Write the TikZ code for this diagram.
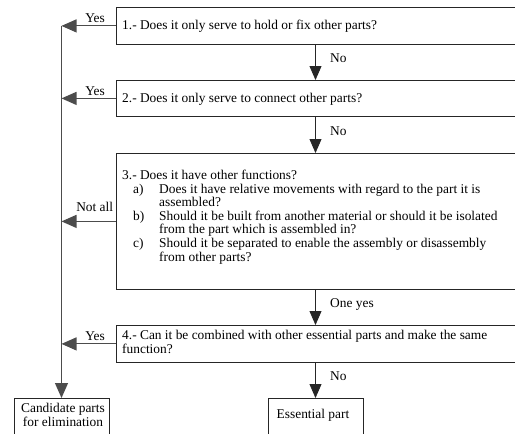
\documentclass[tikz,border=0pt]{standalone}
\usepackage{fontspec}
\setmainfont{Liberation Serif}
\usetikzlibrary{arrows.meta}
\begin{document}
\begin{tikzpicture}[x=1pt,y=-1pt,
  every node/.style={font=\fontsize{13.4}{13.6}\selectfont, inner sep=0pt},
  box/.style={draw=black!85, line width=0.8pt, anchor=north west, minimum width=420pt},
  endbox/.style={draw=black!85, line width=0.8pt, anchor=north, minimum width=95pt, minimum height=50pt},
  lbl/.style={anchor=base},
  txt/.style={anchor=base west},
  conn/.style={draw=black!70, line width=1.1pt, -{Triangle[length=15pt,width=13pt]}},
  down/.style={draw=black!85, line width=0.8pt, -{Triangle[length=14pt,width=12pt]}}]
\useasboundingbox (0,0) rectangle (515,434);
\clip (0,0) rectangle (515,434);
\fill[white] (0,0) rectangle (515,434);
% boxes
\node[box, minimum height=37pt] (q1) at (116,7) {};
\node[box, minimum height=36pt] (q2) at (116,80) {};
\node[box, minimum height=136pt] (q3) at (116,153) {};
\node[box, minimum height=37pt] (q4) at (116,325) {};
\node[endbox] (cand) at (61.5,398) {};
\node[endbox] (ess) at (315.5,398) {};
% texts
\node[txt] (t1) at (122,29.5) {1.- Does it only serve to hold or fix other parts?};
\node[txt] (t2) at (122,102.5) {2.- Does it only serve to connect other parts?};
\node[txt] (t3) at (122,179.5) {\parbox[t]{390pt}{3.- Does it have other functions?\\
\hspace*{11pt}\makebox[26pt][l]{a)}Does it have relative movements with regard to the part it is\\
\hspace*{37pt}assembled?\\
\hspace*{11pt}\makebox[26pt][l]{b)}Should it be built from another material or should it be isolated\\
\hspace*{37pt}from the part which is assembled in?\\
\hspace*{11pt}\makebox[26pt][l]{c)}Should it be separated to enable the assembly or disassembly\\
\hspace*{37pt}from other parts?}};
\node[txt] (t4) at (122,339.5) {\parbox[t]{390pt}{4.- Can it be combined with other essential parts and make the same\\function?}};
\node[lbl] (tc) at (63,412.5) {\parbox[t]{95pt}{\centering Candidate parts\\for elimination}};
\node[lbl] (te) at (313,418.5) {Essential part};
% labels
\node[lbl] (y1) at (95,22) {Yes};
\node[lbl] (y2) at (95,95) {Yes};
\node[lbl] (na) at (94.7,211.7) {Not all};
\node[lbl] (y4) at (95,340) {Yes};
\node[txt] (n1) at (330,62.7) {No};
\node[txt] (n2) at (330,135) {No};
\node[txt] (oy) at (330,307.7) {One yes};
\node[txt] (n4) at (330,380) {No};
% main line
\coordinate (j1) at (cand.north |- q1.west);
\coordinate (j2) at (cand.north |- q2.west);
\coordinate (j3) at (cand.north |- q3.west);
\coordinate (j4) at (cand.north |- q4.west);
\draw[conn] (j1) -- (cand.north);
\draw[conn] (q1.west) -- (j1);
\draw[conn] (q2.west) -- (j2);
\draw[conn] (q3.west) -- (j3);
\draw[conn] (q4.west) -- (j4);
% down arrows
\draw[down] (q1.south -| ess.north) -- (q2.north -| ess.north);
\draw[down] (q2.south -| ess.north) -- (q3.north -| ess.north);
\draw[down] (q3.south -| ess.north) -- (q4.north -| ess.north);
\draw[down] (q4.south -| ess.north) -- (ess.north);
\end{tikzpicture}
\end{document}
